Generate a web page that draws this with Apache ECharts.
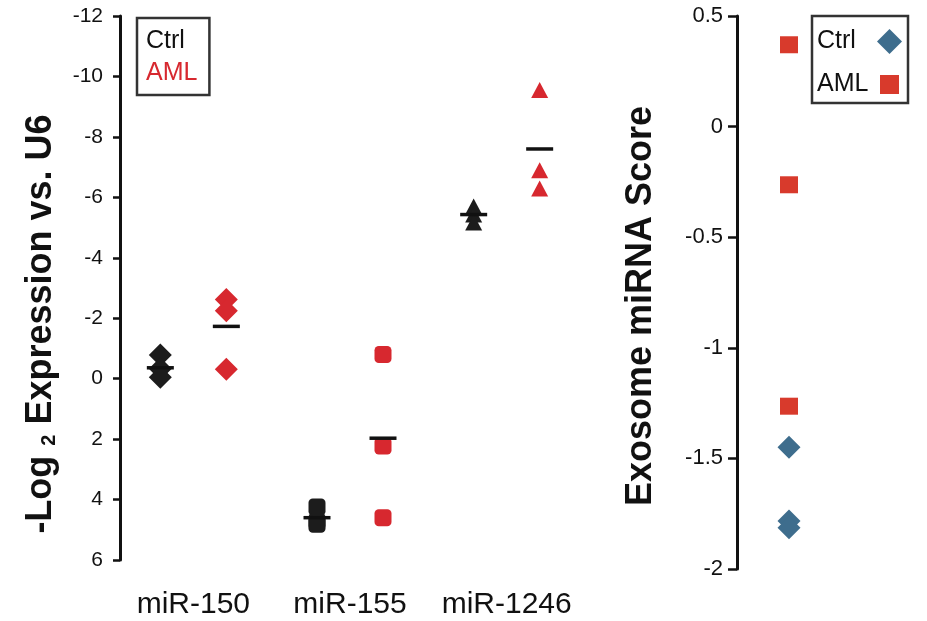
<!DOCTYPE html>
<html>
<head>
<meta charset="utf-8">
<script src="https://cdn.jsdelivr.net/npm/echarts@6/dist/echarts.min.js"></script>
<style>
html,body{margin:0;padding:0;background:#fff;}
#chart{width:927px;height:621px;}
</style>
</head>
<body>
<div id="chart"></div>
<script>
// ---- data ----
var categories = ['miR-150', 'miR-155', 'miR-1246'];
var categorySymbols = ['diamond', 'roundRect', 'triangle'];
var ctrlValues = [[-0.78, -0.33, -0.05], [4.25, 4.73, 4.82], [-5.7, -5.43, -5.17]];
var amlValues = [[-2.62, -2.25, -0.31], [-0.8, 2.23, 4.6], [-9.55, -6.9, -6.29]];
var ctrlMeans = [-0.36, 4.6, -5.43];
var amlMeans = [-1.73, 1.97, -7.6];
var leftTicks = { min: -12, max: 6, interval: 2 };

var scoreCategory = ['Exosome'];
var scoreCtrl = [-1.45, -1.783, -1.814];
var scoreAml = [0.37, -0.263, -1.264];
var rightTicks = { min: -2, max: 0.5, interval: 0.5 };

// ---- styles ----
var FONT = "'Liberation Sans', Arial, Helvetica, sans-serif";
var BLACK = '#1c1c1c';
var RED = '#d7282f';
var RED2 = '#d83a2c';
var BLUE = '#3e6d8d';
var symbolSizes = { diamond: [23, 23], roundRect: [17, 17], triangle: [17, 16] };

function pointItems(groups) {
  var out = [];
  groups.forEach(function (vals, ci) {
    vals.forEach(function (v) {
      var sym = categorySymbols[ci];
      out.push({ value: [categories[ci], v], symbol: sym, symbolSize: symbolSizes[sym] });
    });
  });
  return out;
}
function meanItems(means) {
  return means.map(function (v, ci) { return [categories[ci], v]; });
}

var chart = echarts.init(document.getElementById('chart'), null, { renderer: 'canvas' });

var option = {
  backgroundColor: '#fff',
  animation: false,
  textStyle: { fontFamily: FONT },
  grid: [
    { left: 115, top: 16, width: 470, bottom: 61 },
    { left: 737, top: 16, width: 104, bottom: 52 }
  ],
  xAxis: [
    {
      type: 'category', gridIndex: 0, data: categories,
      axisLine: { show: false }, axisTick: { show: false },
      axisLabel: { interval: 0, fontSize: 30, color: '#111', margin: 30, fontFamily: FONT },
      splitLine: { show: false }
    },
    {
      type: 'category', gridIndex: 1, data: scoreCategory,
      axisLine: { show: false }, axisTick: { show: false },
      axisLabel: { show: false }, splitLine: { show: false }
    }
  ],
  yAxis: [
    {
      type: 'value', gridIndex: 0, inverse: true, offset: -5,
      min: leftTicks.min, max: leftTicks.max, interval: leftTicks.interval,
      axisLine: { show: true, lineStyle: { color: '#111', width: 3 } },
      axisTick: { show: true, length: 7, lineStyle: { color: '#111', width: 2.5 } },
      axisLabel: { fontSize: 21, color: '#111', margin: 17, fontFamily: FONT },
      splitLine: { show: false }
    },
    {
      type: 'value', gridIndex: 1,
      min: rightTicks.min, max: rightTicks.max, interval: rightTicks.interval,
      axisLine: { show: true, lineStyle: { color: '#111', width: 3 } },
      axisTick: { show: true, length: 9, lineStyle: { color: '#111', width: 2.5 } },
      axisLabel: { fontSize: 22, color: '#111', margin: 14, fontFamily: FONT },
      splitLine: { show: false }
    }
  ],
  legend: [
    {
      orient: 'vertical', left: 137, top: 18,
      data: [
        { name: 'Ctrl', icon: 'none', textStyle: { color: '#111' } },
        { name: 'AML', icon: 'none', textStyle: { color: RED } }
      ],
      itemWidth: 0, itemHeight: 14, itemGap: 7,
      padding: [11, 12, 9, 4],
      borderColor: '#333', borderWidth: 2.5,
      textStyle: { fontSize: 25, fontFamily: FONT },
      selectedMode: false
    },
    {
      orient: 'vertical', left: 812, top: 16, align: 'right',
      data: [
        { name: 'Ctrl', icon: 'diamond', itemStyle: { color: BLUE } },
        { name: 'AML', icon: 'path://M0,0L0,0M25,25L25,25M3,3L22,3L22,22L3,22Z', itemStyle: { color: RED2 } }
      ],
      itemWidth: 25, itemHeight: 25, itemGap: 18,
      padding: [13, 6, 6, 5],
      borderColor: '#333', borderWidth: 2.5,
      formatter: '{t|{name}}',
      textStyle: { fontSize: 25, color: '#111', fontFamily: FONT,
        rich: { t: { fontSize: 25, width: 55, align: 'left', color: '#111', fontFamily: FONT } } },
      selectedMode: false
    }
  ],
  graphic: [
    {
      type: 'text', x: 41, y: 324, rotation: Math.PI / 2,
      style: {
        text: '{a|-Log }{s|2}{a| Expression vs. U6}',
        align: 'center', verticalAlign: 'middle',
        rich: {
          a: { fontSize: 36, fontWeight: 'bold', fontFamily: FONT, fill: '#111' },
          s: { fontSize: 20, fontWeight: 'bold', fontFamily: FONT, fill: '#111', verticalAlign: 'bottom', padding: [14, 0, 0, 0] }
        }
      }
    },
    {
      type: 'text', x: 641, y: 306, rotation: Math.PI / 2,
      style: {
        text: 'Exosome miRNA Score',
        align: 'center', verticalAlign: 'middle',
        fontSize: 36, fontWeight: 'bold', fontFamily: FONT, fill: '#111'
      }
    }
  ],
  series: [
    {
      name: 'Ctrl', type: 'scatter', xAxisIndex: 0, yAxisIndex: 0,
      data: pointItems(ctrlValues), symbolOffset: [-33, 0],
      itemStyle: { color: BLACK, opacity: 1 }, z: 3
    },
    {
      name: 'AML', type: 'scatter', xAxisIndex: 0, yAxisIndex: 0,
      data: pointItems(amlValues), symbolOffset: [33, 0],
      itemStyle: { color: RED, opacity: 1 }, z: 3
    },
    {
      name: 'Ctrl mean', type: 'scatter', xAxisIndex: 0, yAxisIndex: 0,
      data: meanItems(ctrlMeans), symbol: 'rect', symbolSize: [27, 3.5], symbolOffset: [-33, 0],
      itemStyle: { color: '#111', opacity: 1 }, z: 5
    },
    {
      name: 'AML mean', type: 'scatter', xAxisIndex: 0, yAxisIndex: 0,
      data: meanItems(amlMeans), symbol: 'rect', symbolSize: [27, 3.5], symbolOffset: [33, 0],
      itemStyle: { color: '#111', opacity: 1 }, z: 5
    },
    {
      name: 'Ctrl', type: 'scatter', xAxisIndex: 1, yAxisIndex: 1,
      data: scoreCtrl.map(function (v) { return [scoreCategory[0], v]; }),
      symbol: 'diamond', symbolSize: [23, 23],
      itemStyle: { color: BLUE, opacity: 1 }, z: 3
    },
    {
      name: 'AML', type: 'scatter', xAxisIndex: 1, yAxisIndex: 1,
      data: scoreAml.map(function (v) { return [scoreCategory[0], v]; }),
      symbol: 'rect', symbolSize: [18, 17],
      itemStyle: { color: RED2, opacity: 1 }, z: 3
    }
  ]
};
chart.setOption(option);
</script>
</body>
</html>
